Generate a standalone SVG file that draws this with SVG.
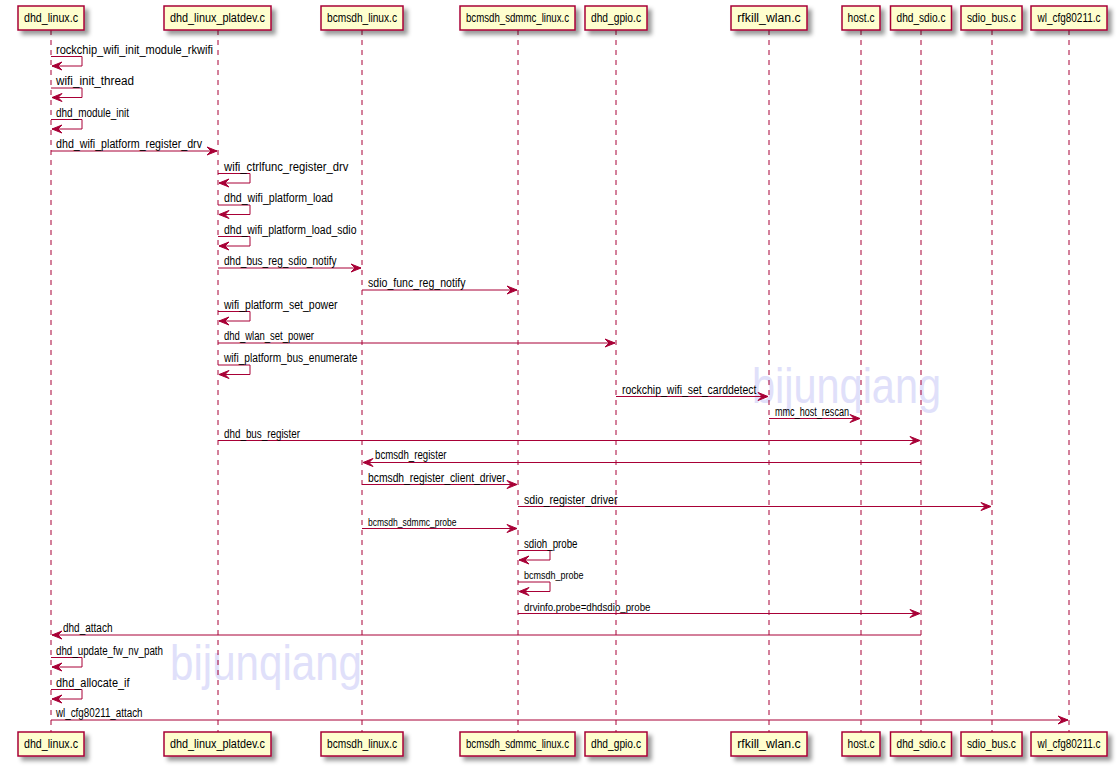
<svg xmlns="http://www.w3.org/2000/svg" width="1120" height="767" viewBox="0 0 1120 767">
<defs>
<filter id="sh" x="-1" y="-1" width="300%" height="300%">
<feGaussianBlur result="b1" stdDeviation="2"/>
<feColorMatrix in="b1" result="b2" type="matrix" values="0 0 0 0 0 0 0 0 0 0 0 0 0 0 0 0 0 0 .4 0"/>
<feOffset dx="4" dy="4" in="b2" result="b3"/>
<feBlend in="SourceGraphic" in2="b3" mode="normal"/>
</filter>
<marker id="ah" markerUnits="userSpaceOnUse" markerWidth="12" markerHeight="10" refX="10" refY="4" orient="auto" overflow="visible">
<path d="M0,0 L10,4 L0,8 L4,4 Z" fill="#A80036" stroke="#A80036" stroke-width="1"/>
</marker>
<style>
.box{fill:#FEFECE;stroke:#A80036;stroke-width:1.5;filter:url(#sh)}
.pt{font-family:"Liberation Sans",Arial,sans-serif;font-size:12px;fill:#000;text-anchor:middle}
.life{stroke:#A80036;stroke-width:1;stroke-dasharray:5,5}
.msg{stroke:#A80036;stroke-width:1;fill:none;marker-end:url(#ah)}
.ml{font-family:"Liberation Sans",Arial,sans-serif;font-size:12px;fill:#000}
.ms{font-size:11px}
.wm{font-family:"Liberation Sans",Arial,sans-serif;font-size:50px;fill:#E0E0FA}
</style>
</defs>
<rect width="1120" height="767" fill="#FFFFFF"/>
<g id="watermarks">
<text class="wm" x="752" y="403" textLength="189" lengthAdjust="spacingAndGlyphs">bijunqiang</text>
<text class="wm" x="170" y="680" textLength="192" lengthAdjust="spacingAndGlyphs">bijunqiang</text>
</g>
<g id="lifelines">
<line class="life" x1="51" y1="30" x2="51" y2="732"/>
<line class="life" x1="218" y1="30" x2="218" y2="732"/>
<line class="life" x1="362" y1="30" x2="362" y2="732"/>
<line class="life" x1="518" y1="30" x2="518" y2="732"/>
<line class="life" x1="616" y1="30" x2="616" y2="732"/>
<line class="life" x1="769" y1="30" x2="769" y2="732"/>
<line class="life" x1="861" y1="30" x2="861" y2="732"/>
<line class="life" x1="921" y1="30" x2="921" y2="732"/>
<line class="life" x1="992" y1="30" x2="992" y2="732"/>
<line class="life" x1="1069" y1="30" x2="1069" y2="732"/>
</g>
<g id="n_dhd_linux">
<rect class="box" x="18" y="6" width="66" height="24"/>
<text class="pt" x="51" y="22" textLength="54" lengthAdjust="spacingAndGlyphs">dhd_linux.c</text>
<rect class="box" x="18" y="732" width="66" height="24"/>
<text class="pt" x="51" y="748" textLength="54" lengthAdjust="spacingAndGlyphs">dhd_linux.c</text>
</g>
<g id="n_dhd_linux_platdev">
<rect class="box" x="164" y="6" width="107" height="24"/>
<text class="pt" x="217.5" y="22" textLength="95" lengthAdjust="spacingAndGlyphs">dhd_linux_platdev.c</text>
<rect class="box" x="164" y="732" width="107" height="24"/>
<text class="pt" x="217.5" y="748" textLength="95" lengthAdjust="spacingAndGlyphs">dhd_linux_platdev.c</text>
</g>
<g id="n_bcmsdh_linux">
<rect class="box" x="321" y="6" width="82" height="24"/>
<text class="pt" x="362" y="22" textLength="70" lengthAdjust="spacingAndGlyphs">bcmsdh_linux.c</text>
<rect class="box" x="321" y="732" width="82" height="24"/>
<text class="pt" x="362" y="748" textLength="70" lengthAdjust="spacingAndGlyphs">bcmsdh_linux.c</text>
</g>
<g id="n_bcmsdh_sdmmc_linux">
<rect class="box" x="460" y="6" width="115" height="24"/>
<text class="pt" x="517.5" y="22" textLength="103" lengthAdjust="spacingAndGlyphs">bcmsdh_sdmmc_linux.c</text>
<rect class="box" x="460" y="732" width="115" height="24"/>
<text class="pt" x="517.5" y="748" textLength="103" lengthAdjust="spacingAndGlyphs">bcmsdh_sdmmc_linux.c</text>
</g>
<g id="n_dhd_gpio">
<rect class="box" x="585" y="6" width="62" height="24"/>
<text class="pt" x="616" y="22" textLength="50" lengthAdjust="spacingAndGlyphs">dhd_gpio.c</text>
<rect class="box" x="585" y="732" width="62" height="24"/>
<text class="pt" x="616" y="748" textLength="50" lengthAdjust="spacingAndGlyphs">dhd_gpio.c</text>
</g>
<g id="n_rfkill_wlan">
<rect class="box" x="731" y="6" width="76" height="24"/>
<text class="pt" x="769" y="22" textLength="63.5" lengthAdjust="spacingAndGlyphs">rfkill_wlan.c</text>
<rect class="box" x="731" y="732" width="76" height="24"/>
<text class="pt" x="769" y="748" textLength="63.5" lengthAdjust="spacingAndGlyphs">rfkill_wlan.c</text>
</g>
<g id="n_host">
<rect class="box" x="842" y="6" width="38" height="24"/>
<text class="pt" x="861" y="22" textLength="27" lengthAdjust="spacingAndGlyphs">host.c</text>
<rect class="box" x="842" y="732" width="38" height="24"/>
<text class="pt" x="861" y="748" textLength="27" lengthAdjust="spacingAndGlyphs">host.c</text>
</g>
<g id="n_dhd_sdio">
<rect class="box" x="890.5" y="6" width="61" height="24"/>
<text class="pt" x="921" y="22" textLength="49" lengthAdjust="spacingAndGlyphs">dhd_sdio.c</text>
<rect class="box" x="890.5" y="732" width="61" height="24"/>
<text class="pt" x="921" y="748" textLength="49" lengthAdjust="spacingAndGlyphs">dhd_sdio.c</text>
</g>
<g id="n_sdio_bus">
<rect class="box" x="961" y="6" width="61" height="24"/>
<text class="pt" x="991.5" y="22" textLength="49" lengthAdjust="spacingAndGlyphs">sdio_bus.c</text>
<rect class="box" x="961" y="732" width="61" height="24"/>
<text class="pt" x="991.5" y="748" textLength="49" lengthAdjust="spacingAndGlyphs">sdio_bus.c</text>
</g>
<g id="n_wl_cfg80211">
<rect class="box" x="1031" y="6" width="76" height="24"/>
<text class="pt" x="1069" y="22" textLength="63" lengthAdjust="spacingAndGlyphs">wl_cfg80211.c</text>
<rect class="box" x="1031" y="732" width="76" height="24"/>
<text class="pt" x="1069" y="748" textLength="63" lengthAdjust="spacingAndGlyphs">wl_cfg80211.c</text>
</g>
<g id="connectors">
<path class="msg" d="M51,56.5 H82 V66 H52"/>
<text class="ml" x="56" y="53.5" textLength="157" lengthAdjust="spacingAndGlyphs">rockchip_wifi_init_module_rkwifi</text>
<path class="msg" d="M51,88 H82 V97.5 H52"/>
<text class="ml" x="56" y="85" textLength="78" lengthAdjust="spacingAndGlyphs">wifi_init_thread</text>
<path class="msg" d="M51,119.5 H82 V129 H52"/>
<text class="ml" x="56" y="116.5" textLength="73" lengthAdjust="spacingAndGlyphs">dhd_module_init</text>
<path class="msg" d="M51,151 H217"/>
<text class="ml" x="56" y="148" textLength="146" lengthAdjust="spacingAndGlyphs">dhd_wifi_platform_register_drv</text>
<path class="msg" d="M218,173.5 H250 V183 H219"/>
<text class="ml" x="224" y="170.5" textLength="124.5" lengthAdjust="spacingAndGlyphs">wifi_ctrlfunc_register_drv</text>
<path class="msg" d="M218,205 H250 V214.5 H219"/>
<text class="ml" x="224" y="202" textLength="109" lengthAdjust="spacingAndGlyphs">dhd_wifi_platform_load</text>
<path class="msg" d="M218,236.5 H250 V246 H219"/>
<text class="ml" x="224" y="233.5" textLength="132.5" lengthAdjust="spacingAndGlyphs">dhd_wifi_platform_load_sdio</text>
<path class="msg" d="M218,268 H361"/>
<text class="ml" x="224" y="265" textLength="112.5" lengthAdjust="spacingAndGlyphs">dhd_bus_reg_sdio_notify</text>
<path class="msg" d="M362,290 H517"/>
<text class="ml" x="368" y="287" textLength="97.5" lengthAdjust="spacingAndGlyphs">sdio_func_reg_notify</text>
<path class="msg" d="M218,311.5 H250 V321 H219"/>
<text class="ml" x="224" y="308.5" textLength="113.5" lengthAdjust="spacingAndGlyphs">wifi_platform_set_power</text>
<path class="msg" d="M218,343 H615"/>
<text class="ml" x="224" y="340" textLength="90" lengthAdjust="spacingAndGlyphs">dhd_wlan_set_power</text>
<path class="msg" d="M218,365 H250 V374.5 H219"/>
<text class="ml" x="224" y="362" textLength="133.5" lengthAdjust="spacingAndGlyphs">wifi_platform_bus_enumerate</text>
<path class="msg" d="M616,396.5 H768"/>
<text class="ml" x="622" y="393.5" textLength="134.5" lengthAdjust="spacingAndGlyphs">rockchip_wifi_set_carddetect</text>
<path class="msg" d="M769,418.5 H860"/>
<text class="ml" x="775" y="415.5" textLength="74" lengthAdjust="spacingAndGlyphs">mmc_host_rescan</text>
<path class="msg" d="M218,440.5 H920"/>
<text class="ml" x="224" y="437.5" textLength="76" lengthAdjust="spacingAndGlyphs">dhd_bus_register</text>
<path class="msg" d="M921,462.5 H363"/>
<text class="ml" x="375" y="459" textLength="71.5" lengthAdjust="spacingAndGlyphs">bcmsdh_register</text>
<path class="msg" d="M362,484.5 H517"/>
<text class="ml" x="368" y="481.5" textLength="137.5" lengthAdjust="spacingAndGlyphs">bcmsdh_register_client_driver</text>
<path class="msg" d="M518,506.5 H991"/>
<text class="ml" x="524" y="503.5" textLength="93.5" lengthAdjust="spacingAndGlyphs">sdio_register_driver</text>
<path class="msg" d="M362,528.5 H517"/>
<text class="ml ms" x="368" y="525.5" textLength="88.5" lengthAdjust="spacingAndGlyphs">bcmsdh_sdmmc_probe</text>
<path class="msg" d="M518,550.5 H550 V560 H519"/>
<text class="ml" x="524" y="547.5" textLength="53.5" lengthAdjust="spacingAndGlyphs">sdioh_probe</text>
<path class="msg" d="M518,582 H550 V591.5 H519"/>
<text class="ml ms" x="524" y="579" textLength="59.5" lengthAdjust="spacingAndGlyphs">bcmsdh_probe</text>
<path class="msg" d="M518,613.5 H920"/>
<text class="ml ms" x="524" y="610.5" textLength="126.5" lengthAdjust="spacingAndGlyphs">drvinfo.probe=dhdsdio_probe</text>
<path class="msg" d="M921,635 H52"/>
<text class="ml" x="63" y="632" textLength="49.5" lengthAdjust="spacingAndGlyphs">dhd_attach</text>
<path class="msg" d="M51,657.5 H82 V667 H52"/>
<text class="ml" x="56" y="654.5" textLength="107" lengthAdjust="spacingAndGlyphs">dhd_update_fw_nv_path</text>
<path class="msg" d="M51,689.5 H82 V699 H52"/>
<text class="ml" x="56" y="686.5" textLength="73.5" lengthAdjust="spacingAndGlyphs">dhd_allocate_if</text>
<path class="msg" d="M51,720 H1068"/>
<text class="ml" x="56" y="717" textLength="86.5" lengthAdjust="spacingAndGlyphs">wl_cfg80211_attach</text>
</g>
</svg>
